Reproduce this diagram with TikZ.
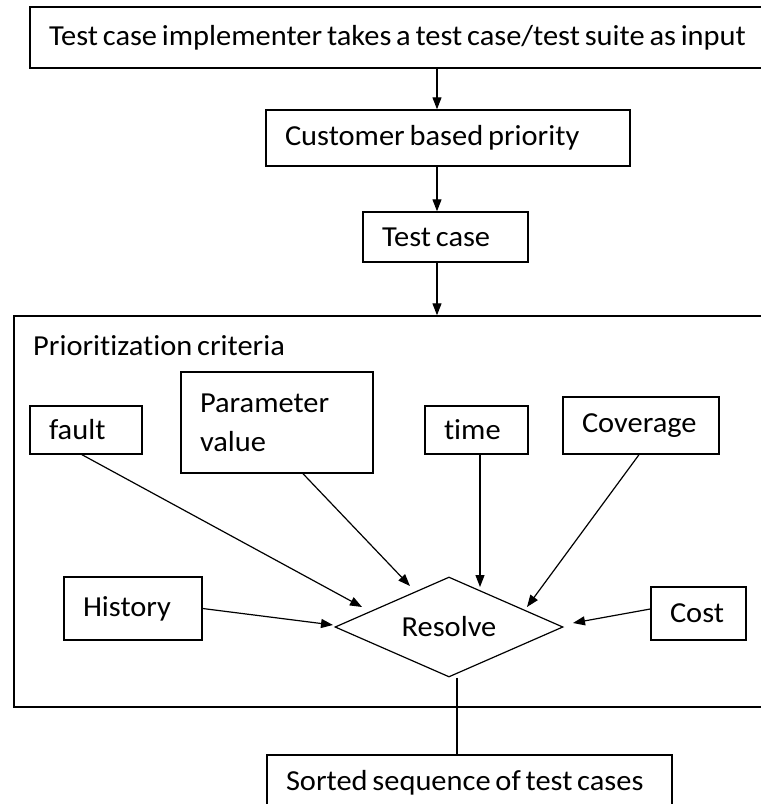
\documentclass[tikz,border=0pt]{standalone}
\usepackage{fontspec}
\setmainfont{Carlito}[FakeStretch=1.05, Ligatures=NoCommon]
\usetikzlibrary{shapes.geometric,arrows.meta,calc}
\newcommand\mytightspace{\spaceskip=4.8pt plus 0.6pt\relax}
\begin{document}
\begin{tikzpicture}[x=1pt,y=-1pt,
  every node/.style={font=\fontsize{29}{39}\selectfont, text=black, execute at begin node=\mytightspace},
  box/.style={draw, line width=1.4pt, rectangle, inner xsep=19pt, inner ysep=0pt, align=left},
  arr/.style={line width=1.2pt, -{Triangle[length=12pt,width=9pt]}},
  conn/.style={line width=1.2pt}]
\useasboundingbox (0,0) rectangle (761,804);
\clip (0,0) rectangle (761,804);
\fill[white] (0,0) rectangle (761,804);
\node[box, text width=762pt, minimum height=61pt] (top) at (430,37.5) {Test case implementer takes a test case/test suite as input};
\node[box, text width=326pt, minimum height=56pt] (cust) at (448,138) {Customer based priority};
\node[box, text width=127pt, minimum height=50pt] (tc) at (445.5,237) {Test case};
\node[draw, line width=1.4pt, minimum width=761pt, minimum height=391pt, inner sep=0pt] (crit) at (394.5,511.5) {};
\node[anchor=base west, inner sep=0pt] (critlbl) at (33,355) {Prioritization criteria};
\node[box, text width=74pt, minimum height=48pt] (fault) at (86,430) {fault};
\node[box, text width=154pt, minimum height=101pt] (param) at (277,422.5) {Parameter\\value};
\node[box, text width=65pt, minimum height=48pt] (time) at (476.5,430) {time};
\node[box, text width=118pt, minimum height=57pt] (cov) at (641,425.5) {Coverage};
\node[box, text width=100pt, minimum height=63pt] (hist) at (133,608.5) {History};
\node[box, text width=57pt, minimum height=53pt] (cost) at (698.5,613.5) {Cost};
\node[diamond, draw, line width=1.2pt, aspect=2.28, minimum width=228pt, minimum height=100pt, inner sep=0pt] (res) at (449,627) {Resolve};
\node[box, text width=367pt, minimum height=56pt] (sorted) at (469.5,783) {Sorted sequence of test cases};
\coordinate (ax) at (437,0);
\draw[arr] (ax |- top.south) -- (ax |- cust.north);
\draw[arr] (ax |- cust.south) -- (ax |- tc.north);
\draw[arr] (ax |- tc.south) -- (ax |- crit.north);
\coordinate (tF) at (362,607);
\coordinate (tP) at (410,586);
\coordinate (tT) at (480,587);
\coordinate (tC) at (527,607);
\coordinate (tH) at (333,625);
\coordinate (tK) at (573,623);
\draw[arr] ([xshift=-4pt]fault.south) -- (tF);
\draw[arr] ([xshift=26pt]param.south) -- (tP);
\draw[arr] (tT |- time.south) -- (tT);
\draw[arr] ([xshift=-2pt]cov.south) -- (tC);
\draw[arr] (hist.east) -- (tH);
\draw[arr] ([yshift=4.5pt]cost.west) -- (tK);
\coordinate (sx) at (457,0);
\draw[conn] (sx |- res.south) -- (sx |- sorted.north);
\end{tikzpicture}
\end{document}
